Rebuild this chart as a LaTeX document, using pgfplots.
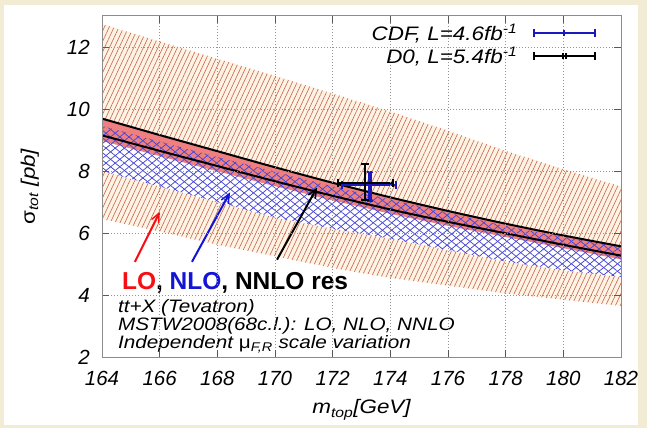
\documentclass[border=0pt]{standalone}
\usepackage{fontspec}
\setmainfont{Liberation Sans}
\newfontfamily\wide{Liberation Sans}[FakeStretch=1.15]
\usepackage{pgfplots}
\pgfplotsset{compat=1.18}
\usetikzlibrary{patterns.meta,arrows.meta}
\definecolor{bgbeige}{RGB}{243,236,212}
\definecolor{cream}{RGB}{255,243,228}
\definecolor{hatchred}{RGB}{195,100,80}
\definecolor{salmon}{RGB}{240,128,128}
\definecolor{xblue}{RGB}{70,70,210}
\definecolor{framegray}{RGB}{140,140,140}
\definecolor{cdfblue}{RGB}{25,25,190}
\definecolor{nloblue}{RGB}{20,20,215}
\definecolor{lored}{RGB}{245,15,20}
\begin{document}
\begin{tikzpicture}
\useasboundingbox (0,0) rectangle (647pt,428pt);
\fill[bgbeige] (0,0) rectangle (647pt,428pt);
\fill[white] (4pt,3pt) rectangle (638pt,423pt);
\begin{axis}[
  at={(102pt,71pt)}, anchor=south west,
  scale only axis, width=519pt, height=341pt,
  xmin=164, xmax=182, ymin=2, ymax=13,
  xtick={164,166,...,182}, ytick={2,4,...,12},
  grid=major,
  major grid style={gray!85, dash pattern=on 1.2pt off 1.8pt, line width=0.6pt},
  axis line style={framegray, line width=1pt},
  tick style={gray!70!black, line width=0.8pt},
  major tick length=7pt, tick align=inside,
  axis on top,
  /pgf/number format/assume math mode=true,
  tick label style={font=\fontsize{20.5}{24}\selectfont\itshape, inner sep=1pt},
  xticklabel style={yshift=-13pt},
  yticklabel style={xshift=-11pt},
  every axis x label/.style={at={(axis description cs:0.5,-0.167)}, anchor=base},
  every axis y label/.style={at={(axis description cs:-0.139,0.5)}, rotate=90, anchor=center},
  xlabel={\wide\fontsize{19.5}{23}\selectfont\itshape m\textsubscript{top}[GeV]},
  ylabel={\wide\fontsize{19.5}{23}\selectfont\itshape {\upshape σ}\textsubscript{tot} [pb]},
  legend style={at={(axis description cs:1,1)}, anchor=north east, xshift=-22pt, yshift=-4pt,
    draw=none, fill=none, font=\wide\fontsize{19.5}{22}\selectfont\itshape,
    nodes={inner sep=1.5pt}, row sep=1.5pt},
  legend cell align=right, legend plot pos=right,
]
% LO band
\addplot[draw=none, fill=cream, forget plot] coordinates {
 (164,12.74)(166,12.18)(168,11.62)(170,11.07)(172,10.5)(174,9.92)(176,9.3)(178,8.65)(180,8.06)(182,7.5)
 (182,3.65)(180,3.85)(178,4.05)(176,4.3)(174,4.55)(172,4.87)(170,5.25)(168,5.62)(166,6.05)(164,6.45)} -- cycle;
\addplot[draw=none, forget plot, pattern={Lines[angle=65,distance=4.4pt,line width=0.6pt]}, pattern color=hatchred] coordinates {
 (164,12.74)(166,12.18)(168,11.62)(170,11.07)(172,10.5)(174,9.92)(176,9.3)(178,8.65)(180,8.06)(182,7.5)
 (182,3.65)(180,3.85)(178,4.05)(176,4.3)(174,4.55)(172,4.87)(170,5.25)(168,5.62)(166,6.05)(164,6.45)} -- cycle;
% NLO band background
\addplot[draw=none, fill=white, forget plot] coordinates {
 (164,9.45)(166,8.95)(168,8.45)(170,7.98)(172,7.5)(174,7.08)(176,6.65)(178,6.22)(180,5.87)(182,5.55)
 (182,4.58)(180,4.8)(178,5.08)(176,5.45)(174,5.82)(172,6.14)(170,6.5)(168,7.0)(166,7.5)(164,8.0)} -- cycle;
% NNLO band
\addplot[draw=none, fill=salmon, forget plot] coordinates {
 (164,9.69)(166,9.16)(168,8.64)(170,8.12)(172,7.62)(174,7.15)(176,6.71)(178,6.3)(180,5.92)(182,5.57)
 (182,5.15)(180,5.51)(178,5.87)(176,6.23)(174,6.62)(172,7.05)(170,7.51)(168,7.99)(166,8.48)(164,8.97)} -- cycle;
% NLO crosshatch
\addplot[draw=none, forget plot, pattern={Lines[angle=39,distance=5.8pt,line width=0.75pt]}, pattern color=xblue] coordinates {
 (164,9.45)(166,8.95)(168,8.45)(170,7.98)(172,7.5)(174,7.08)(176,6.65)(178,6.22)(180,5.87)(182,5.55)
 (182,4.58)(180,4.8)(178,5.08)(176,5.45)(174,5.82)(172,6.14)(170,6.5)(168,7.0)(166,7.5)(164,8.0)} -- cycle;
\addplot[draw=none, forget plot, pattern={Lines[angle=-39,distance=5.8pt,line width=0.75pt]}, pattern color=xblue] coordinates {
 (164,9.45)(166,8.95)(168,8.45)(170,7.98)(172,7.5)(174,7.08)(176,6.65)(178,6.22)(180,5.87)(182,5.55)
 (182,4.58)(180,4.8)(178,5.08)(176,5.45)(174,5.82)(172,6.14)(170,6.5)(168,7.0)(166,7.5)(164,8.0)} -- cycle;
% NNLO lines
\addplot[black, line width=2pt, smooth, forget plot] coordinates {
 (164,9.69)(166,9.16)(168,8.64)(170,8.12)(172,7.62)(174,7.15)(176,6.71)(178,6.3)(180,5.92)(182,5.57)};
\addplot[black, line width=2pt, smooth, forget plot] coordinates {
 (164,9.15)(166,8.65)(168,8.16)(170,7.67)(172,7.2)(174,6.76)(176,6.36)(178,5.99)(180,5.62)(182,5.27)};
% CDF data
\addplot[cdfblue, mark=none, line width=2pt, forget plot,
  error bars/.cd, x dir=both, x explicit,
  error bar style={line width=2pt}, error mark options={rotate=90, mark size=4pt, line width=2pt}]
  coordinates {(173.25,7.55) +- (0.93,0)};
\addplot[cdfblue, mark=none, forget plot,
  error bars/.cd, y dir=both, y explicit,
  error bar style={line width=4pt}, error mark options={rotate=90, mark size=3pt, line width=2pt}]
  coordinates {(173.28,7.5) +- (0,0.48)};
% D0 data
\addplot[black, mark=none, line width=2pt, forget plot,
  error bars/.cd, x dir=both, x explicit, y dir=both, y explicit,
  error bar style={line width=2pt}, error mark options={rotate=90, mark size=4pt, line width=2pt}]
  coordinates {(173.13,7.62) += (0.95,0.6) -= (0.95,0.56)};
% legend
\addlegendimage{legend image code/.code={
    \draw[cdfblue,line width=2pt] (0pt,0pt)--(61pt,0pt);
    \draw[cdfblue,line width=2pt] (0pt,-4pt)--(0pt,4pt) (61pt,-4pt)--(61pt,4pt) (30.5pt,-3pt)--(30.5pt,3pt);}}
\addlegendentry{CDF, L=4.6fb\textsuperscript{-1}\hspace*{14pt}}
\addlegendimage{legend image code/.code={
    \draw[black,line width=2pt] (0pt,0pt)--(61pt,0pt);
    \draw[black,line width=2pt] (0pt,-4pt)--(0pt,4pt) (61pt,-4pt)--(61pt,4pt) (29pt,-3pt)--(29pt,3pt) (32pt,-3pt)--(32pt,3pt);}}
\addlegendentry{D0, L=5.4fb\textsuperscript{-1}\hspace*{14pt}}
% arrows
\draw[lored, line width=2pt, -{Straight Barb[length=9pt,width=8pt,line width=1.5pt]}] (axis cs:165.14,5.07) -- (axis cs:166.01,6.69);
\draw[nloblue, line width=2pt, -{Straight Barb[length=9pt,width=8pt,line width=1.5pt]}] (axis cs:167.12,5.07) -- (axis cs:168.44,7.31);
\draw[black, line width=2pt, -{Straight Barb[length=9pt,width=8pt,line width=1.5pt]}] (axis cs:170.07,5.14) -- (axis cs:171.46,7.47);
% labels
\node[anchor=base west, inner sep=0pt, font=\fontsize{24.5}{28}\selectfont\bfseries] at (axis cs:164.69,4.18)
  {\textcolor{lored}{LO}, \textcolor{nloblue}{NLO}, NNLO res};
\node[anchor=base west, inner sep=0pt, font=\wide\fontsize{18}{20}\selectfont\itshape] at (axis cs:164.55,3.42) {tt+X (Tevatron)};
\node[anchor=base west, inner sep=0pt, font=\wide\fontsize{18}{20}\selectfont\itshape] at (axis cs:164.55,2.84) {MSTW2008(68c.l.): LO, NLO, NNLO};
\node[anchor=base west, inner sep=0pt, font=\wide\fontsize{18}{20}\selectfont\itshape] at (axis cs:164.55,2.26) {Independent {\upshape μ}\textsubscript{F,R} scale variation};
\end{axis}
\end{tikzpicture}
\end{document}
